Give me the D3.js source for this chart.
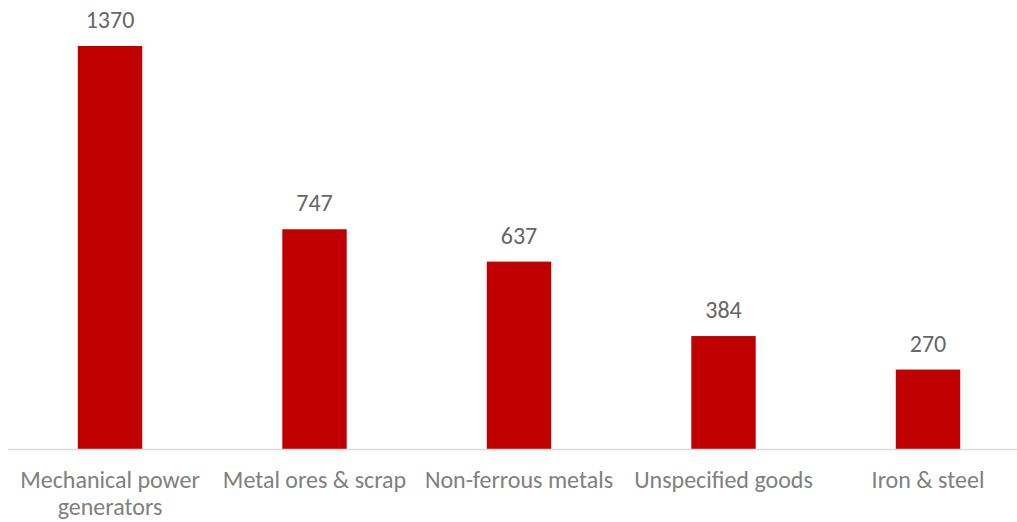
<!DOCTYPE html>
<html><head><meta charset="utf-8">
<script src="https://cdn.jsdelivr.net/npm/d3@7"></script>
<style>body{margin:0;background:#fff}svg{display:block}</style>
</head><body>
<svg id="c" width="1017" height="522"></svg>
<script>
const categories = ["Mechanical power generators", "Metal ores & scrap", "Non-ferrous metals", "Unspecified goods", "Iron & steel"];
const values = [1370, 747, 637, 384, 270];

const svg = d3.select("#c");
const font = "Carlito, Lato, 'Open Sans', sans-serif";
const x = d3.scaleBand().domain(categories).range([7.75, 1030.25]).paddingInner(0.685).paddingOuter(0.3425);
const y = d3.scaleLinear().domain([0, 1370]).range([449, 46]);

svg.selectAll("rect").data(categories).join("rect")
  .attr("x", d => x(d)).attr("width", x.bandwidth())
  .attr("y", (d,i) => y(values[i])).attr("height", (d,i) => y(0) - y(values[i]))
  .attr("fill", "#C00000");

svg.append("line").attr("x1", 8).attr("x2", 1017).attr("y1", 449.5).attr("y2", 449.5)
  .attr("stroke", "#d9d9d9").attr("stroke-width", 1.3);

svg.selectAll("text.v").data(categories).join("text").attr("class","v")
  .attr("x", d => x(d) + x.bandwidth()/2).attr("y", (d,i) => y(values[i]) - 18)
  .attr("text-anchor","middle").attr("font-family", font).attr("font-size", 24)
  .attr("fill", "#666666").text((d,i) => values[i]);

const maxW = 200;
svg.selectAll("text.c").data(categories).join("text").attr("class","c")
  .attr("text-anchor","middle").attr("font-family", font).attr("font-size", 24)
  .attr("fill", "#808080")
  .each(function(d){
    const t = d3.select(this);
    const cx = x(d) + x.bandwidth()/2;
    const words = d.split(" ");
    let line = [], lineNo = 0;
    let ts = t.append("tspan").attr("x", cx).attr("y", 488);
    for (const w of words) {
      line.push(w); ts.text(line.join(" "));
      if (ts.node().getComputedTextLength() > maxW && line.length > 1) {
        line.pop(); ts.text(line.join(" "));
        line = [w]; lineNo++;
        ts = t.append("tspan").attr("x", cx).attr("y", 488 + lineNo*27).text(w);
      }
    }
  });
</script>
</body></html>
